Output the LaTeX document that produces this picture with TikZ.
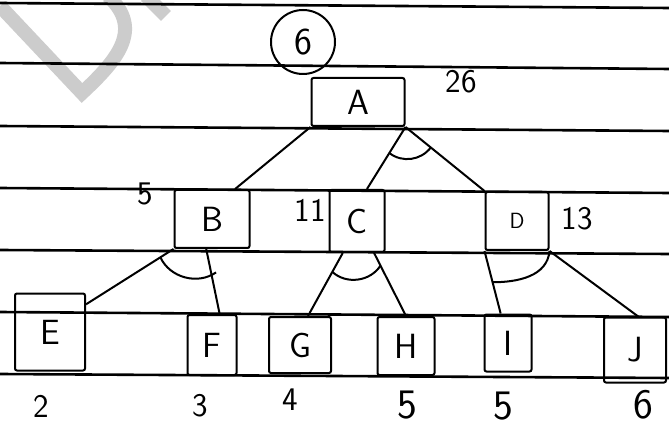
\documentclass[tikz,border=0pt]{standalone}
\usepackage{fontspec}
\usetikzlibrary{calc}
\tikzset{
  ruling/.style={black, line width=2.6pt},
  pen/.style={black, line width=2pt},
  box/.style={draw, line width=2pt, rounded corners=2pt, inner sep=0pt,
              font=\fontsize{35}{35}\sffamily},
  cost/.style={font=\fontsize{33}{33}\sffamily},
  bigcost/.style={font=\fontsize{42}{42}\sffamily},
  andarc/.style={black, line width=2pt},
  solnode/.style={draw, circle, line width=2pt, minimum size=64pt, inner sep=0pt,
                  font=\fontsize{38}{38}\sffamily},
  wmark/.style={gray!40, line width=14pt},
}

\begin{document}
\begin{tikzpicture}[x=1pt, y=1pt]
  \useasboundingbox (0,0) rectangle (669,-430);
  \fill[white] (0,0) rectangle (669,-430);
  % watermark
  \begin{scope}
    \clip (0,0) rectangle (669,-430);
    \draw[wmark] (0,-6) -- (82,-93) .. controls (115,-62) and (145,-30) .. (108,4);
    \draw[wmark] (146,4) -- (166,-16);
  \end{scope}
  % ruled paper
  \foreach \yl/\yr in {3/8, 63/69, 126/131, 188/193, 250/254, 312/317, 374/378}
    \draw[ruling] (0,-\yl) -- (669,-\yr);

  % nodes
  \node[solnode] (sol) at (303,-42) {6};
  \node[box, minimum width=93pt, minimum height=48pt] (A) at (358,-102) {A};
  \node[box, minimum width=75pt, minimum height=58pt] (B) at (212,-219) {B};
  \node[box, minimum width=55pt, minimum height=62pt] (C) at (357,-221) {C};
  \node[box, minimum width=63pt, minimum height=58pt, font=\fontsize{22}{22}\sffamily] (D) at (517,-221) {D};
  \node[box, minimum width=70pt, minimum height=77pt] (E) at (50,-332) {E};
  \node[box, minimum width=49pt, minimum height=60pt] (F) at (212,-345) {F};
  \node[box, minimum width=62pt, minimum height=56pt] (G) at (300,-345) {G};
  \node[box, minimum width=57pt, minimum height=58pt] (H) at (406,-346) {H};
  \node[box, minimum width=47pt, minimum height=57pt] (I) at (508,-343) {I};
  \node[box, minimum width=62pt, minimum height=65pt] (J) at (635,-350) {J};

  % costs
  \node[cost] (cA) at (461,-82) {26};
  \node[cost] (cB) at (145,-194) {5};
  \node[cost] (cC) at (310,-210) {11};
  \node[cost] (cD) at (577,-219) {13};
  \node[cost] (cE) at (41,-406) {2};
  \node[cost] (cF) at (200,-406) {3};
  \node[cost] (cG) at (290,-400) {4};
  \node[bigcost] (cH) at (407,-405) {5};
  \node[bigcost] (cI) at (503,-406) {5};
  \node[bigcost] (cJ) at (643,-405) {6};

  % A
  \coordinate (cTop) at ($(C.north)!.35!(C.north east)$);
  \draw[pen] (A.south west) -- ($(B.north)!.6!(B.north east)$);
  \draw[pen] (A.south east) -- (cTop);
  \draw[pen] (A.south east) -- (D.north west);
  \draw[andarc] ($(A.south east)!.42!(cTop)$) to[bend right=45] ($(A.south east)!.32!(D.north west)$);

  % B
  \coordinate (bE) at ($(E.north east)!.15!(E.south east)$);
  \coordinate (bF) at ($(B.south)!.15!(B.south west)$);
  \coordinate (fTop) at ($(F.north)!.3!(F.north east)$);
  \draw[pen] (B.south west) -- (bE);
  \draw[pen] (bF) -- (fTop);
  \draw[andarc] ($(B.south west)!.15!(bE)$) to[bend right=50] ($(bF)!.36!(fTop)+(5,0)$);

  % C
  \coordinate (cGl) at ($(C.south)!.5!(C.south west)$);
  \coordinate (cHr) at ($(C.south)!.6!(C.south east)$);
  \coordinate (gTop) at ($(G.north)!.25!(G.north east)$);
  \draw[pen] (cGl) -- (gTop);
  \draw[pen] (cHr) -- (H.north);
  \draw[andarc] ($(cGl)!.3!(gTop)$) to[bend right=50] ($(cHr)!.2!(H.north)$);

  % D
  \coordinate (iTop) at ($(I.north)!.3!(I.north west)$);
  \draw[pen] (D.south west) -- (iTop);
  \draw[pen] (D.south east) -- ($(J.north)!.1!(J.north east)$);
  \draw[andarc] ($(D.south west)!.5!(iTop)$) to[out=0, in=-95] (D.south east);
\end{tikzpicture}
\end{document}
